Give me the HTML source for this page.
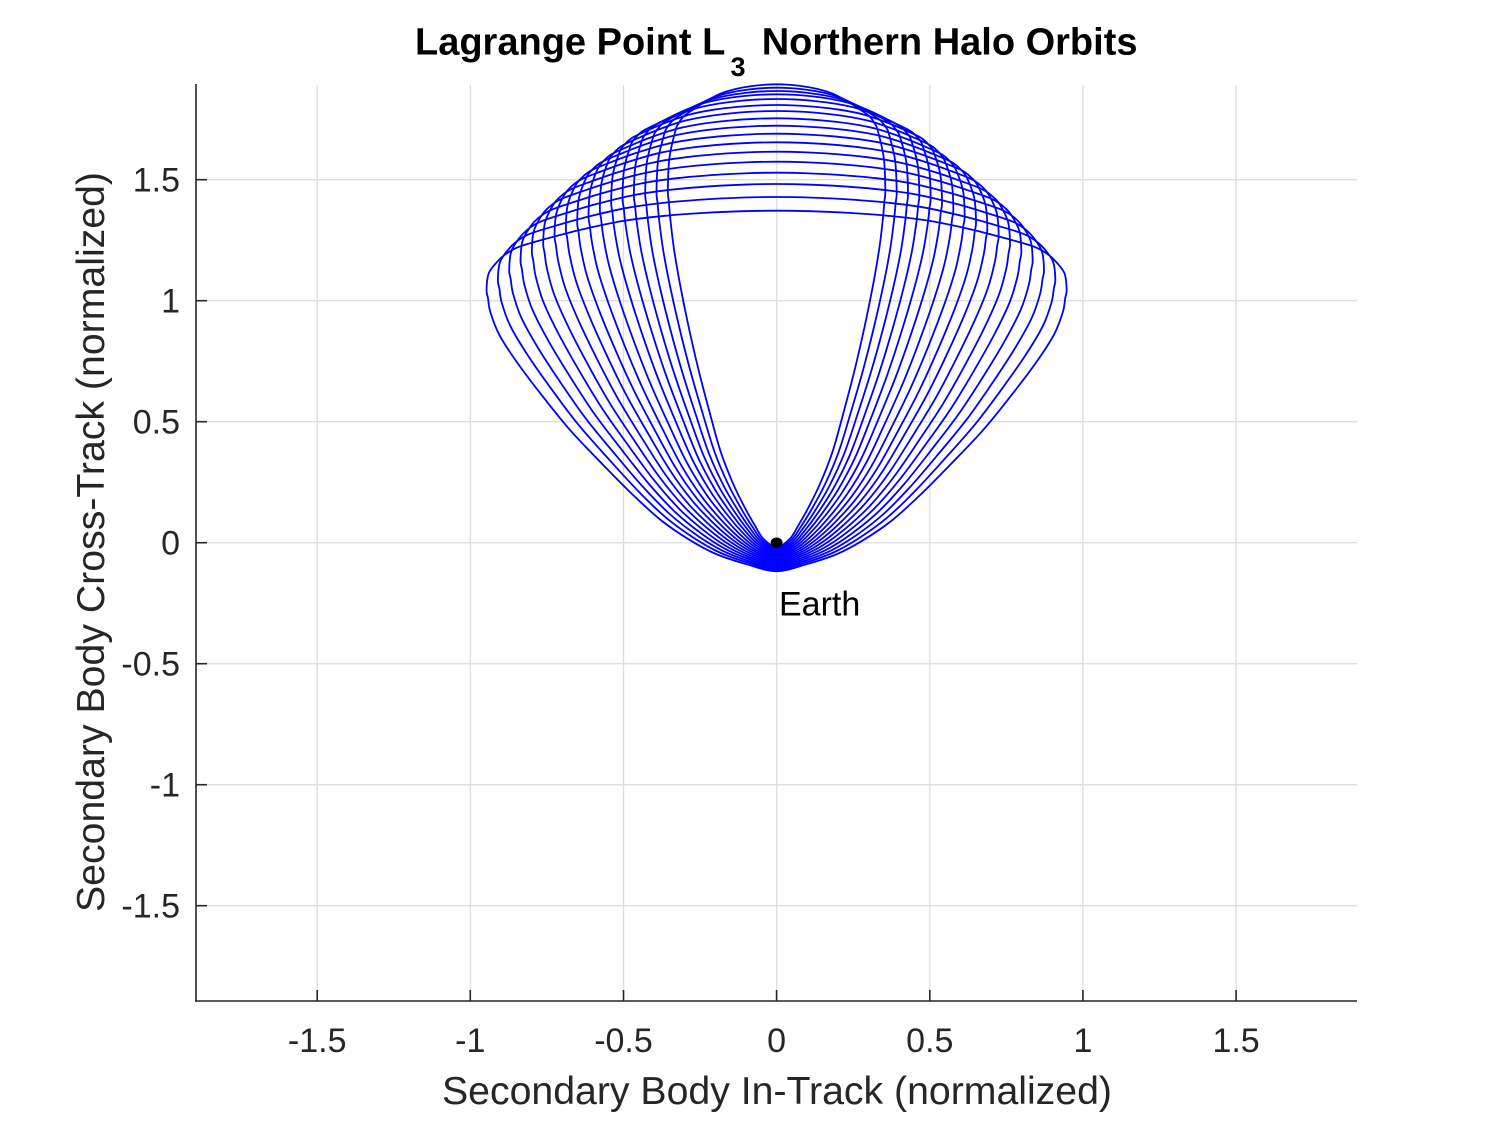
<!DOCTYPE html>
<html>
<head>
<meta charset="utf-8">
<style>
  html,body{margin:0;padding:0;background:#fff;}
  svg{display:block;}
  text{font-family:"Liberation Sans", Arial, sans-serif;}
</style>
</head>
<body>
<svg id="chart" width="1500" height="1125" viewBox="0 0 1500 1125" xmlns="http://www.w3.org/2000/svg">
  <rect x="0" y="0" width="1500" height="1125" fill="#ffffff"/>
  <!-- grid -->
  <g stroke="#dedede" stroke-width="1.3" fill="none">
    <line x1="317.2" y1="85" x2="317.2" y2="1001"/>
    <line x1="470.3" y1="85" x2="470.3" y2="1001"/>
    <line x1="623.5" y1="85" x2="623.5" y2="1001"/>
    <line x1="776.6" y1="85" x2="776.6" y2="1001"/>
    <line x1="929.8" y1="85" x2="929.8" y2="1001"/>
    <line x1="1082.9" y1="85" x2="1082.9" y2="1001"/>
    <line x1="1236.1" y1="85" x2="1236.1" y2="1001"/>
    <line x1="196" y1="179.7" x2="1357" y2="179.7"/>
    <line x1="196" y1="300.7" x2="1357" y2="300.7"/>
    <line x1="196" y1="421.7" x2="1357" y2="421.7"/>
    <line x1="196" y1="542.7" x2="1357" y2="542.7"/>
    <line x1="196" y1="663.7" x2="1357" y2="663.7"/>
    <line x1="196" y1="784.7" x2="1357" y2="784.7"/>
    <line x1="196" y1="905.7" x2="1357" y2="905.7"/>
  </g>
  <!-- orbits -->
  <g id="orbits" stroke="#0000ff" stroke-width="1.8" fill="none" stroke-linejoin="round"></g>
  <!-- axes -->
  <g stroke="#262626" stroke-width="1.6" fill="none">
    <line x1="196" y1="84" x2="196" y2="1001.8"/>
    <line x1="195.2" y1="1001" x2="1357" y2="1001"/>
    <line x1="317.2" y1="1001" x2="317.2" y2="990"/>
    <line x1="470.3" y1="1001" x2="470.3" y2="990"/>
    <line x1="623.5" y1="1001" x2="623.5" y2="990"/>
    <line x1="776.6" y1="1001" x2="776.6" y2="990"/>
    <line x1="929.8" y1="1001" x2="929.8" y2="990"/>
    <line x1="1082.9" y1="1001" x2="1082.9" y2="990"/>
    <line x1="1236.1" y1="1001" x2="1236.1" y2="990"/>
    <line x1="196" y1="179.7" x2="207" y2="179.7"/>
    <line x1="196" y1="300.7" x2="207" y2="300.7"/>
    <line x1="196" y1="421.7" x2="207" y2="421.7"/>
    <line x1="196" y1="542.7" x2="207" y2="542.7"/>
    <line x1="196" y1="663.7" x2="207" y2="663.7"/>
    <line x1="196" y1="784.7" x2="207" y2="784.7"/>
    <line x1="196" y1="905.7" x2="207" y2="905.7"/>
  </g>
  <!-- x tick labels -->
  <g fill="#262626" font-size="34" text-anchor="middle">
    <text x="317.2" y="1052">-1.5</text>
    <text x="470.3" y="1052">-1</text>
    <text x="623.5" y="1052">-0.5</text>
    <text x="776.6" y="1052">0</text>
    <text x="929.8" y="1052">0.5</text>
    <text x="1082.9" y="1052">1</text>
    <text x="1236.1" y="1052">1.5</text>
  </g>
  <!-- y tick labels -->
  <g fill="#262626" font-size="34" text-anchor="end">
    <text x="180" y="191.7">1.5</text>
    <text x="180" y="312.7">1</text>
    <text x="180" y="433.7">0.5</text>
    <text x="180" y="554.7">0</text>
    <text x="180" y="675.7">-0.5</text>
    <text x="180" y="796.7">-1</text>
    <text x="180" y="917.7">-1.5</text>
  </g>
  <!-- axis labels -->
  <text x="777" y="1104" fill="#262626" font-size="38.5" text-anchor="middle" textLength="670" lengthAdjust="spacingAndGlyphs">Secondary Body In-Track (normalized)</text>
  <text transform="translate(104,542) rotate(-90)" fill="#262626" font-size="38.5" text-anchor="middle" textLength="740" lengthAdjust="spacingAndGlyphs">Secondary Body Cross-Track (normalized)</text>
  <!-- title -->
  <text x="415" y="54.3" fill="#000" font-size="38" font-weight="bold">Lagrange Point L</text>
  <text x="730.5" y="76" fill="#000" font-size="27" font-weight="bold">3</text>
  <text x="761.7" y="54.3" fill="#000" font-size="38" font-weight="bold">Northern Halo Orbits</text>
  <!-- Earth -->
  <g id="earth">
    <ellipse cx="776.6" cy="542.7" rx="6" ry="5.2" fill="#000"/>
    <text x="779" y="615.5" fill="#000" font-size="34">Earth</text>
  </g>
</svg>
<script>
(function(){
  var X0=776.6, SX=306.3, Y0=542.7, SY=242;
  var tops=[84.3,87.7,91,94.3,99,105,111,118.3,125.7,133.7,142.3,151.7,161.7,172.7,184,197,210.7];
  var env=[[-0.947,1.10],[-0.935,1.128],[-0.892,1.19],[-0.782,1.335],[-0.673,1.459],[-0.586,1.541],[-0.468,1.66],[-0.357,1.744],[-0.28,1.785],[-0.196,1.84],[-0.11,1.88],[0,1.897]];
  function E(x){
    for(var i=0;i<env.length-1;i++){
      var a=env[i],b=env[i+1];
      if(x>=a[0]&&x<=b[0]){var t=(x-a[0])/(b[0]-a[0]);return a[1]+t*(b[1]-a[1]);}
    }
    return x<env[0][0]?env[0][1]:env[env.length-1][1];
  }
  function tab(T,u){
    for(var i=0;i<T.length-1;i++){
      if(u>=T[i][0]&&u<=T[i+1][0]){var t=(u-T[i][0])/(T[i+1][0]-T[i][0]);return T[i][1]+t*(T[i+1][1]-T[i][1]);}
    }
    return T[T.length-1][1];
  }
  // normalized lower side shapes: u = (y-yb)/(yv-yb), value = |x|/a
  var innerTab=[[0,0],[0.0136,0.099],[0.078,0.234],[0.163,0.380],[0.274,0.521],[0.461,0.690],[0.685,0.859],[0.872,0.963],[1,1]];
  var outerTab=[[0,0],[0.041,0.169],[0.101,0.285],[0.183,0.401],[0.302,0.528],[0.531,0.739],[0.695,0.861],[0.798,0.935],[0.893,0.982],[1,1]];
  var uGrid=[0.025,0.06,0.11,0.18,0.27,0.38,0.5,0.62,0.74,0.84,0.92,0.97];
  // top arc shape: X = x/xc, Y = (y-yc)/(h-yc)
  var topTab=[[0.97,0.15],[0.92,0.30],[0.82,0.46],[0.7,0.63],[0.55,0.80],[0.4,0.90],[0.25,0.96],[0.12,0.99]];
  function f(v){return v.toFixed(2);}
  function path(pts){
    var n=pts.length;
    var P=pts.map(function(p){return [X0+p[0]*SX, Y0-p[1]*SY];});
    var d='M'+f(P[0][0])+','+f(P[0][1]);
    for(var i=0;i<n;i++){
      var p0=P[(i-1+n)%n],p1=P[i],p2=P[(i+1)%n],p3=P[(i+2)%n];
      var c1=[p1[0]+(p2[0]-p0[0])/6, p1[1]+(p2[1]-p0[1])/6];
      var c2=[p2[0]-(p3[0]-p1[0])/6, p2[1]-(p3[1]-p1[1])/6];
      d+='C'+f(c1[0])+','+f(c1[1])+' '+f(c2[0])+','+f(c2[1])+' '+f(p2[0])+','+f(p2[1]);
    }
    return d+'Z';
  }
  var g=document.getElementById('orbits');
  var out='';
  for(var k=0;k<17;k++){
    var s=k/16;
    var h=(Y0-tops[k])/SY;
    var a=0.355+0.592*s;
    var xc=-0.33-0.583*s;
    var yc=Math.min(E(xc), h-0.19);
    var yv=yc-(0.25-0.135*s);
    var yb=-0.02-0.098*s;
    var left=[[0,yb]];
    for(var i=0;i<uGrid.length;i++){
      var u=uGrid[i];
      var xn=tab(innerTab,u)*(1-s)+tab(outerTab,u)*s;
      left.push([-a*xn, yb+u*(yv-yb)]);
    }
    var V=[-a,yv];
    var M=[(V[0]+xc)/2-0.3*(xc+a),(yv+yc)/2+0.01];
    left.push(V,M,[xc,yc]);
    for(var j=0;j<topTab.length;j++){
      left.push([topTab[j][0]*xc, yc+topTab[j][1]*(h-yc)]);
    }
    left.push([0,h]);
    var right=left.slice(1,-1).reverse().map(function(p){return [-p[0],p[1]];});
    var pts=left.concat(right);
    out+='<path d="'+path(pts)+'"/>';
  }
  g.innerHTML=out;
})();
</script>
</body>
</html>
